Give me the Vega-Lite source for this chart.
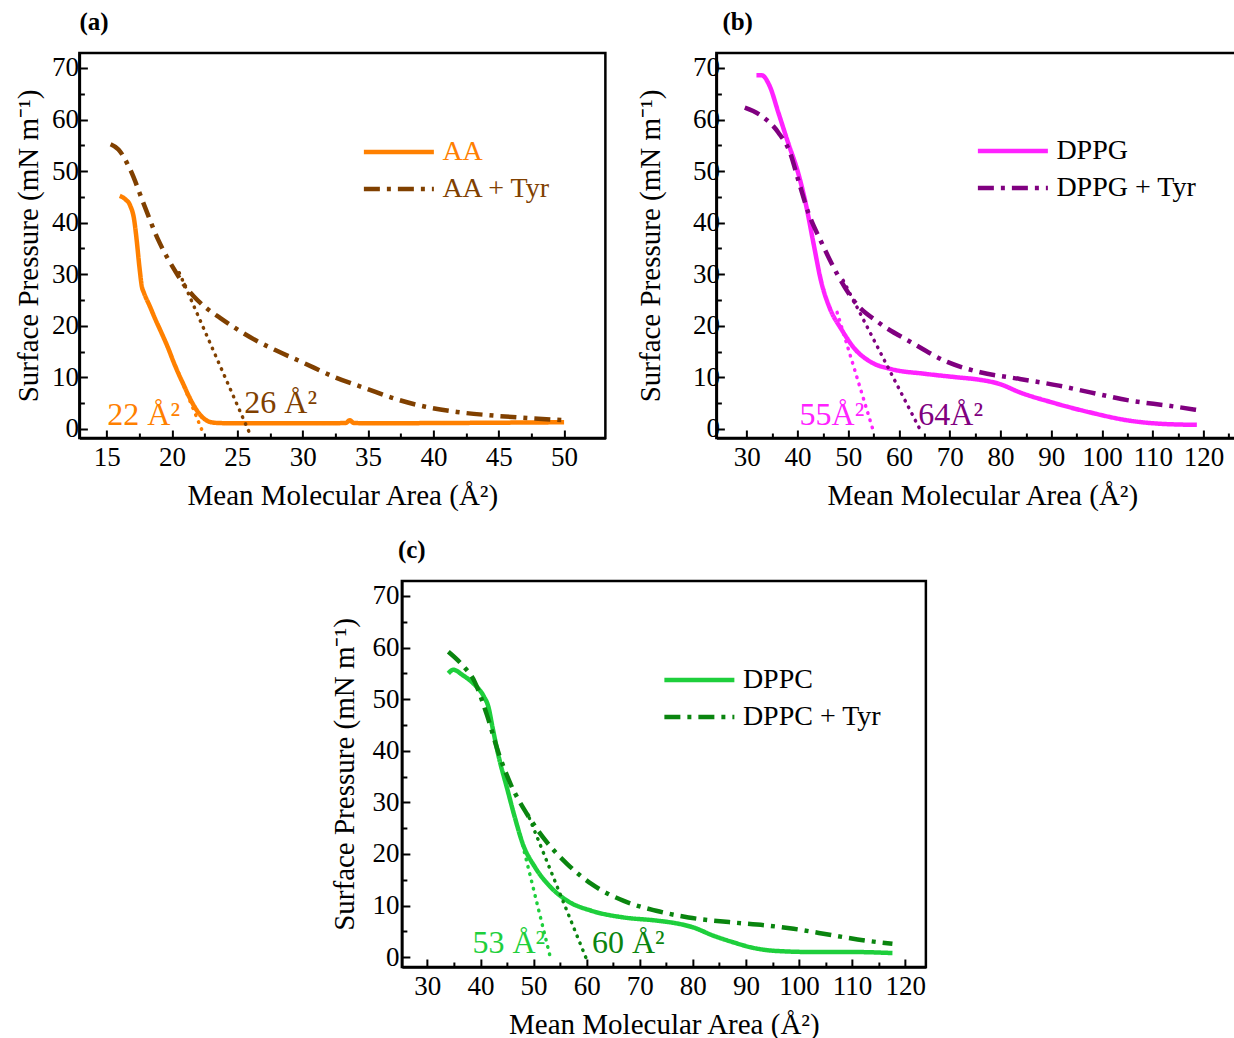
{
  "$schema": "https://vega.github.io/schema/vega-lite/v6.json",
  "padding": {"left": 13, "top": 8, "right": 0, "bottom": 0},
  "background": "white",
  "config": {
    "font": "Liberation Serif",
    "view": {"stroke": "black", "strokeWidth": 2.5},
    "axis": {"domainColor": "black", "domainWidth": 2.5, "tickColor": "black", "tickWidth": 2, "labelColor": "black", "labelFont": "Liberation Serif", "labelFontSize": 27, "titleFont": "Liberation Serif", "titleFontSize": 29, "titleFontWeight": "normal", "titleColor": "black", "grid": false, "labelOverlap": false, "labelFlush": false},
    "legend": {"title": null, "orient": "none", "symbolType": "stroke", "symbolSize": 4900, "symbolStrokeWidth": 4.5, "labelFont": "Liberation Serif", "labelFontSize": 28, "labelColor": "black", "labelOffset": 6, "rowPadding": 9, "clipHeight": 28, "padding": 0},
    "title": {"font": "Liberation Serif", "fontSize": 25, "fontWeight": "bold", "anchor": "start", "frame": "group", "color": "black", "baseline": "alphabetic"}
  },
  "datasets": {
    "aCurves": [
      {"s":"AA","x":16.0,"y":45.2},{"s":"AA","x":16.4,"y":44.6},{"s":"AA","x":16.8,"y":43.3},{"s":"AA","x":17.1,"y":40.6},{"s":"AA","x":17.3,"y":36.5},{"s":"AA","x":17.5,"y":31.5},{"s":"AA","x":17.7,"y":27.5},{"s":"AA","x":17.85,"y":26.4},{"s":"AA","x":18.3,"y":23.8},{"s":"AA","x":18.7,"y":21.4},{"s":"AA","x":19.2,"y":18.6},{"s":"AA","x":19.7,"y":15.7},{"s":"AA","x":20.1,"y":13.1},{"s":"AA","x":20.5,"y":10.7},{"s":"AA","x":20.9,"y":8.5},{"s":"AA","x":21.3,"y":6.3},{"s":"AA","x":21.7,"y":4.4},{"s":"AA","x":22.1,"y":2.9},{"s":"AA","x":22.5,"y":1.9},{"s":"AA","x":23.0,"y":1.3},{"s":"AA","x":23.6,"y":1.15},{"s":"AA","x":25,"y":1.1},{"s":"AA","x":28,"y":1.1},{"s":"AA","x":31,"y":1.1},{"s":"AA","x":33.3,"y":1.15},{"s":"AA","x":33.6,"y":1.7},{"s":"AA","x":33.9,"y":1.15},{"s":"AA","x":36,"y":1.1},{"s":"AA","x":40,"y":1.15},{"s":"AA","x":44,"y":1.2},{"s":"AA","x":47,"y":1.25},{"s":"AA","x":50,"y":1.3},
      {"s":"AA + Tyr","x":15.3,"y":55.2},{"s":"AA + Tyr","x":15.9,"y":54.2},{"s":"AA + Tyr","x":16.8,"y":50.3},{"s":"AA + Tyr","x":17.9,"y":43.2},{"s":"AA + Tyr","x":18.9,"y":36.9},{"s":"AA + Tyr","x":19.6,"y":33.4},{"s":"AA + Tyr","x":20.2,"y":30.8},{"s":"AA + Tyr","x":20.9,"y":28.0},{"s":"AA + Tyr","x":21.6,"y":25.9},{"s":"AA + Tyr","x":22.5,"y":23.7},{"s":"AA + Tyr","x":23.7,"y":21.5},{"s":"AA + Tyr","x":25.0,"y":19.3},{"s":"AA + Tyr","x":26.4,"y":17.2},{"s":"AA + Tyr","x":27.9,"y":15.3},{"s":"AA + Tyr","x":30.0,"y":12.9},{"s":"AA + Tyr","x":32.5,"y":10.0},{"s":"AA + Tyr","x":34.9,"y":7.8},{"s":"AA + Tyr","x":37.0,"y":5.9},{"s":"AA + Tyr","x":39.4,"y":4.3},{"s":"AA + Tyr","x":41.8,"y":3.3},{"s":"AA + Tyr","x":44.6,"y":2.6},{"s":"AA + Tyr","x":47.3,"y":2.1},{"s":"AA + Tyr","x":50.0,"y":1.7}
    ],
    "aTan": [
      {"s":"AA","x":20.5,"y":10.8},{"s":"AA","x":22.35,"y":-0.6},
      {"s":"AA + Tyr","x":20.55,"y":30.3},{"s":"AA + Tyr","x":25.9,"y":-0.6}
    ],
    "aText": [
      {"s":"AA","x":15.05,"y":0.83,"t":"22 Å²"},
      {"s":"AA + Tyr","x":25.53,"y":3.16,"t":"26 Å²"}
    ],
    "bCurves": [
      {"s":"DPPG","x":31.9,"y":68.6},{"s":"DPPG","x":32.9,"y":68.6},{"s":"DPPG","x":34.5,"y":66.5},{"s":"DPPG","x":36.2,"y":61.4},{"s":"DPPG","x":38.1,"y":55.6},{"s":"DPPG","x":40.1,"y":49.7},{"s":"DPPG","x":41.7,"y":43.3},{"s":"DPPG","x":43.1,"y":36.2},{"s":"DPPG","x":44.7,"y":28.4},{"s":"DPPG","x":46.4,"y":23.3},{"s":"DPPG","x":48.6,"y":19.4},{"s":"DPPG","x":51.3,"y":15.5},{"s":"DPPG","x":54.6,"y":12.9},{"s":"DPPG","x":58.5,"y":11.6},{"s":"DPPG","x":65.1,"y":10.7},{"s":"DPPG","x":71.6,"y":10.0},{"s":"DPPG","x":75.5,"y":9.6},{"s":"DPPG","x":79.9,"y":8.7},{"s":"DPPG","x":83.8,"y":7.1},{"s":"DPPG","x":90.0,"y":5.2},{"s":"DPPG","x":97.7,"y":3.2},{"s":"DPPG","x":105.5,"y":1.6},{"s":"DPPG","x":111.7,"y":1.0},{"s":"DPPG","x":118.7,"y":0.8},
      {"s":"DPPG + Tyr","x":29.6,"y":62.3},{"s":"DPPG + Tyr","x":32.9,"y":60.7},{"s":"DPPG + Tyr","x":36.2,"y":57.5},{"s":"DPPG + Tyr","x":38.5,"y":53.6},{"s":"DPPG + Tyr","x":40.1,"y":48.4},{"s":"DPPG + Tyr","x":42.1,"y":42.0},{"s":"DPPG + Tyr","x":44.7,"y":36.2},{"s":"DPPG + Tyr","x":48.0,"y":29.7},{"s":"DPPG + Tyr","x":51.3,"y":24.6},{"s":"DPPG + Tyr","x":55.9,"y":20.7},{"s":"DPPG + Tyr","x":62.4,"y":16.8},{"s":"DPPG + Tyr","x":69.5,"y":13.0},{"s":"DPPG + Tyr","x":76.0,"y":11.0},{"s":"DPPG + Tyr","x":83.8,"y":9.7},{"s":"DPPG + Tyr","x":91.5,"y":8.4},{"s":"DPPG + Tyr","x":97.7,"y":7.1},{"s":"DPPG + Tyr","x":105.5,"y":5.5},{"s":"DPPG + Tyr","x":113.2,"y":4.5},{"s":"DPPG + Tyr","x":118.7,"y":3.7}
    ],
    "bTan": [
      {"s":"DPPG","x":47.8,"y":22.6},{"s":"DPPG","x":55.0,"y":-0.6},
      {"s":"DPPG + Tyr","x":49.0,"y":28.8},{"s":"DPPG + Tyr","x":64.4,"y":-0.6}
    ],
    "bText": [
      {"s":"DPPG","x":40.4,"y":0.8,"t":"55Å²"},
      {"s":"DPPG + Tyr","x":63.8,"y":0.8,"t":"64Å²"}
    ],
    "cCurves": [
      {"s":"DPPC","x":33.95,"y":55.0},{"s":"DPPC","x":34.9,"y":55.7},{"s":"DPPC","x":36.6,"y":54.7},{"s":"DPPC","x":38.9,"y":52.8},{"s":"DPPC","x":40.6,"y":50.6},{"s":"DPPC","x":41.5,"y":48.5},{"s":"DPPC","x":42.3,"y":44.4},{"s":"DPPC","x":43.5,"y":38.6},{"s":"DPPC","x":45.0,"y":32.8},{"s":"DPPC","x":46.5,"y":27.0},{"s":"DPPC","x":48.0,"y":21.9},{"s":"DPPC","x":50.3,"y":17.4},{"s":"DPPC","x":53.3,"y":13.5},{"s":"DPPC","x":56.4,"y":10.9},{"s":"DPPC","x":60.9,"y":9.0},{"s":"DPPC","x":67.0,"y":7.7},{"s":"DPPC","x":73.1,"y":7.1},{"s":"DPPC","x":77.7,"y":6.4},{"s":"DPPC","x":80.0,"y":5.8},{"s":"DPPC","x":83.8,"y":4.2},{"s":"DPPC","x":87.6,"y":2.9},{"s":"DPPC","x":91.4,"y":1.8},{"s":"DPPC","x":95.9,"y":1.2},{"s":"DPPC","x":102.8,"y":1.0},{"s":"DPPC","x":110.4,"y":1.0},{"s":"DPPC","x":117.6,"y":0.8},
      {"s":"DPPC + Tyr","x":33.95,"y":59.2},{"s":"DPPC + Tyr","x":36.6,"y":56.6},{"s":"DPPC + Tyr","x":38.9,"y":53.4},{"s":"DPPC + Tyr","x":41.2,"y":47.0},{"s":"DPPC + Tyr","x":43.5,"y":39.3},{"s":"DPPC + Tyr","x":45.7,"y":33.5},{"s":"DPPC + Tyr","x":48.8,"y":27.7},{"s":"DPPC + Tyr","x":51.8,"y":23.2},{"s":"DPPC + Tyr","x":56.4,"y":18.0},{"s":"DPPC + Tyr","x":60.9,"y":14.2},{"s":"DPPC + Tyr","x":67.0,"y":10.9},{"s":"DPPC + Tyr","x":73.1,"y":9.0},{"s":"DPPC + Tyr","x":79.2,"y":7.7},{"s":"DPPC + Tyr","x":86.8,"y":6.8},{"s":"DPPC + Tyr","x":94.4,"y":6.1},{"s":"DPPC + Tyr","x":99.0,"y":5.5},{"s":"DPPC + Tyr","x":106.6,"y":4.2},{"s":"DPPC + Tyr","x":112.7,"y":3.2},{"s":"DPPC + Tyr","x":117.6,"y":2.6}
    ],
    "cTan": [
      {"s":"DPPC","x":47.6,"y":23.2},{"s":"DPPC","x":53.3,"y":-0.6},
      {"s":"DPPC + Tyr","x":49.2,"y":27.0},{"s":"DPPC + Tyr","x":60.1,"y":-0.7}
    ],
    "cText": [
      {"s":"DPPC","x":38.5,"y":0.8,"t":"53 Å²"},
      {"s":"DPPC + Tyr","x":61.0,"y":0.8,"t":"60 Å²"}
    ]
  },
  "vconcat": [
    {
      "hconcat": [
        {
          "width": 526, "height": 385,
          "title": {"text": "(a)", "dx": 0, "offset": 18},
          "encoding": {
            "x": {"field": "x", "type": "quantitative", "scale": {"domain": [12.91, 53.16], "nice": false, "zero": false},
                  "axis": {"title": "Mean Molecular Area (Å²)", "values": [15,17.5,20,22.5,25,27.5,30,32.5,35,37.5,40,42.5,45,47.5,50], "labelExpr": "datum.value % 5 === 0 ? datum.label : ''", "tickSize": {"condition": {"test": "datum.value % 5 === 0", "value": -8}, "value": -5}, "labelPadding": 14, "titlePadding": 8}},
            "y": {"field": "y", "type": "quantitative", "scale": {"domain": [-1.75, 72.9], "nice": false, "zero": false},
                  "axis": {"title": "Surface Pressure (mN m⁻¹)", "values": [0,5,10,15,20,25,30,35,40,45,50,55,60,65,70], "labelExpr": "datum.value % 10 === 0 ? datum.label : ''", "tickSize": {"condition": {"test": "datum.value % 10 === 0", "value": -8}, "value": -5}, "labelPadding": 9, "titlePadding": 8}}
          },
          "layer": [
            {"data": {"name": "aCurves"}, "mark": {"type": "line", "strokeWidth": 4.5, "interpolate": "monotone"},
             "encoding": {
               "color": {"field": "s", "type": "nominal", "scale": {"domain": ["AA", "AA + Tyr"], "range": ["#FF8000", "#804000"]},
                         "legend": {"legendX": 282, "legendY": 85, "encode": {"labels": {"update": {"fill": {"signal": "datum.label === 'AA' ? '#FF8000' : '#804000'"}}}}}},
               "strokeDash": {"field": "s", "type": "nominal", "scale": {"domain": ["AA", "AA + Tyr"], "range": [[1, 0], [16, 7, 4, 7]]},
                         "legend": {"legendX": 282, "legendY": 85, "encode": {"labels": {"update": {"fill": {"signal": "datum.label === 'AA' ? '#FF8000' : '#804000'"}}}}}}
             }},
            {"data": {"name": "aTan"}, "mark": {"type": "line", "strokeWidth": 3.5, "strokeDash": [0.5, 7], "strokeCap": "round"},
             "encoding": {"color": {"field": "s", "type": "nominal", "legend": null}, "detail": {"field": "s"}}},
            {"data": {"name": "aText"}, "mark": {"type": "text", "align": "left", "baseline": "alphabetic", "fontSize": 32, "font": "Liberation Serif"},
             "encoding": {"text": {"field": "t"}, "color": {"field": "s", "type": "nominal", "legend": null}}}
          ]
        },
        {
          "width": 532, "height": 385,
          "title": {"text": "(b)", "dx": 6, "offset": 18},
          "encoding": {
            "x": {"field": "x", "type": "quantitative", "scale": {"domain": [24.0, 128.85], "nice": false, "zero": false},
                  "axis": {"title": "Mean Molecular Area (Å²)", "values": [30,35,40,45,50,55,60,65,70,75,80,85,90,95,100,105,110,115,120,125], "labelExpr": "datum.value % 10 === 0 ? datum.label : ''", "tickSize": {"condition": {"test": "datum.value % 10 === 0", "value": -8}, "value": -5}, "labelPadding": 14, "titlePadding": 8}},
            "y": {"field": "y", "type": "quantitative", "scale": {"domain": [-1.75, 72.9], "nice": false, "zero": false},
                  "axis": {"title": "Surface Pressure (mN m⁻¹)", "values": [0,5,10,15,20,25,30,35,40,45,50,55,60,65,70], "labelExpr": "datum.value % 10 === 0 ? datum.label : ''", "tickSize": {"condition": {"test": "datum.value % 10 === 0", "value": -8}, "value": -5}, "labelPadding": 5, "titlePadding": 27}}
          },
          "layer": [
            {"data": {"name": "bCurves"}, "mark": {"type": "line", "strokeWidth": 4.5, "interpolate": "monotone"},
             "encoding": {
               "color": {"field": "s", "type": "nominal", "scale": {"domain": ["DPPG", "DPPG + Tyr"], "range": ["#FF22FF", "#800080"]},
                         "legend": {"legendX": 259, "legendY": 84}},
               "strokeDash": {"field": "s", "type": "nominal", "scale": {"domain": ["DPPG", "DPPG + Tyr"], "range": [[1, 0], [16, 7, 4, 7]]},
                         "legend": {"legendX": 259, "legendY": 84}}
             }},
            {"data": {"name": "bTan"}, "mark": {"type": "line", "strokeWidth": 3.5, "strokeDash": [0.5, 7], "strokeCap": "round"},
             "encoding": {"color": {"field": "s", "type": "nominal", "legend": null}, "detail": {"field": "s"}}},
            {"data": {"name": "bText"}, "mark": {"type": "text", "align": "left", "baseline": "alphabetic", "fontSize": 32, "font": "Liberation Serif"},
             "encoding": {"text": {"field": "t"}, "color": {"field": "s", "type": "nominal", "legend": null}}}
          ]
        }
      ],
      "spacing": 27,
      "resolve": {"scale": {"color": "independent", "strokeDash": "independent"}, "legend": {"color": "independent", "strokeDash": "independent"}}
    },
    {
      "width": 524, "height": 386,
      "title": {"text": "(c)", "dx": -4, "offset": 18},
      "encoding": {
        "x": {"field": "x", "type": "quantitative", "scale": {"domain": [25.2, 123.9], "nice": false, "zero": false},
              "axis": {"title": "Mean Molecular Area (Å²)", "values": [30,35,40,45,50,55,60,65,70,75,80,85,90,95,100,105,110,115,120], "labelExpr": "datum.value % 10 === 0 ? datum.label : ''", "tickSize": {"condition": {"test": "datum.value % 10 === 0", "value": -8}, "value": -5}, "labelPadding": 14, "titlePadding": 8}},
        "y": {"field": "y", "type": "quantitative", "scale": {"domain": [-1.9, 72.9], "nice": false, "zero": false},
              "axis": {"title": "Surface Pressure (mN m⁻¹)", "values": [0,5,10,15,20,25,30,35,40,45,50,55,60,65,70], "labelExpr": "datum.value % 10 === 0 ? datum.label : ''", "tickSize": {"condition": {"test": "datum.value % 10 === 0", "value": -8}, "value": -5}, "labelPadding": 11, "titlePadding": 12}}
      },
      "layer": [
        {"data": {"name": "cCurves"}, "mark": {"type": "line", "strokeWidth": 4.5, "interpolate": "monotone"},
         "encoding": {
           "color": {"field": "s", "type": "nominal", "scale": {"domain": ["DPPC", "DPPC + Tyr"], "range": ["#1ECF3C", "#0A850F"]},
                     "legend": {"legendX": 260, "legendY": 85}},
           "strokeDash": {"field": "s", "type": "nominal", "scale": {"domain": ["DPPC", "DPPC + Tyr"], "range": [[1, 0], [16, 7, 4, 7]]},
                     "legend": {"legendX": 260, "legendY": 85}}
         }},
        {"data": {"name": "cTan"}, "mark": {"type": "line", "strokeWidth": 3.5, "strokeDash": [0.5, 7], "strokeCap": "round"},
         "encoding": {"color": {"field": "s", "type": "nominal", "legend": null}, "detail": {"field": "s"}}},
        {"data": {"name": "cText"}, "mark": {"type": "text", "align": "left", "baseline": "alphabetic", "fontSize": 32, "font": "Liberation Serif"},
         "encoding": {"text": {"field": "t"}, "color": {"field": "s", "type": "nominal", "legend": null}}}
      ]
    }
  ],
  "spacing": 24,
  "center": true,
  "resolve": {"scale": {"color": "independent", "strokeDash": "independent"}, "legend": {"color": "independent", "strokeDash": "independent"}}
}
